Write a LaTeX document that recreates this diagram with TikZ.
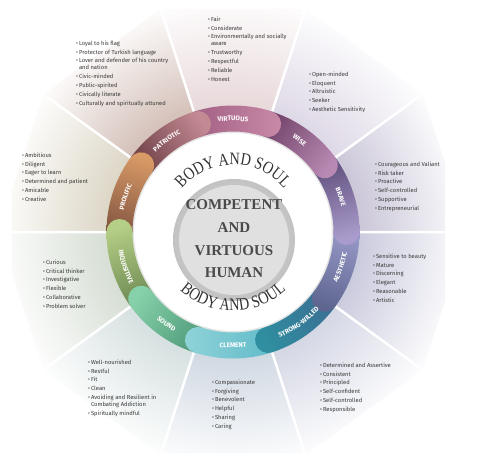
\documentclass[tikz,border=0pt]{standalone}
\usepackage{fontspec}
\usepackage{tikz}
\usetikzlibrary{decorations.text,positioning}
\newfontfamily\listfamily{Fira Sans}
\newfontfamily\pillfamily{Fira Sans}
\newfontfamily\soulfamily[FakeStretch=0.82]{Liberation Serif}
\newfontfamily\corefamily{Liberation Serif}
\newcommand{\listfont}{\listfamily\fontsize{5.8}{8.8}\selectfont}
\newcommand{\pillfont}{\pillfamily\bfseries\fontsize{6.6}{7}\selectfont}
\newcommand{\soulfont}{\soulfamily\fontsize{17.5}{18}\selectfont}
\newcommand{\trait}{\textbullet\,}
% one pill of the ring, from angle #1 clockwise to angle #2
\newcommand{\pillpath}[2]{(#1:100.5) arc[start angle=#1, end angle=#2, radius=100.5]
	arc[start angle=#2+180, end angle=#2+360, radius=13]
	arc[start angle=#2, end angle=#1, radius=126.5]
	arc[start angle=#1, end angle=#1+180, radius=13] -- cycle}
% pills: ccw end / cw end
\definecolor{virtA}{HTML}{9E5C80}\definecolor{virtB}{HTML}{C98AA8}
\definecolor{wiseA}{HTML}{6E3F66}\definecolor{wiseB}{HTML}{B88AB3}
\definecolor{braveA}{HTML}{5B4A78}\definecolor{braveB}{HTML}{A99BCB}
\definecolor{aestA}{HTML}{9C9CCB}\definecolor{aestB}{HTML}{5E6690}
\definecolor{strongA}{HTML}{3B6E93}\definecolor{strongB}{HTML}{2F8EA0}
\definecolor{clemA}{HTML}{5DB8C8}\definecolor{clemB}{HTML}{8FD3D8}
\definecolor{soundA}{HTML}{4E9A78}\definecolor{soundB}{HTML}{86D1AA}
\definecolor{inqA}{HTML}{6A8550}\definecolor{inqB}{HTML}{B5CF86}
\definecolor{prolA}{HTML}{7E5240}\definecolor{prolB}{HTML}{D89A66}
\definecolor{patA}{HTML}{6A3D42}\definecolor{patB}{HTML}{C48A94}
% backdrop
\definecolor{virtbg}{RGB}{207,174,178}
\definecolor{wisebg}{RGB}{186,174,203}
\definecolor{bravebg}{RGB}{145,136,174}
\definecolor{aestbg}{RGB}{145,145,186}
\definecolor{strongbg}{RGB}{165,170,199}
\definecolor{clembg}{RGB}{157,174,195}
\definecolor{soundbg}{RGB}{170,190,190}
\definecolor{inqbg}{RGB}{170,186,165}
\definecolor{prolbg}{RGB}{182,170,136}
\definecolor{patbg}{RGB}{165,124,107}
\definecolor{listgray}{HTML}{3A3A3A}
\definecolor{coregray}{HTML}{4A4A4A}
\tikzset{%
sectorbg/.style={path picture={\shade[inner color=#1, outer color=white] (0pt,0pt) circle (240pt);}},
divider/.style={draw=white, line width=2.5pt},
pillfill/.style n args={3}{path picture={\shade[bottom color=#1, top color=#2, shading angle=#3]
	(path picture bounding box.south west) rectangle (path picture bounding box.north east);}},
pillword/.style={decorate, decoration={text along path, text align=center, text color=white, text={|\pillfont|#1}}},
soulword/.style={decorate, decoration={text along path, text align=center, text color=black!80, text={|\soulfont|BODY AND SOUL}}},
traitlist/.style={anchor=north west, inner sep=0pt, align=left, font=\listfont, text=listgray},
core/.style={align=center, inner sep=0pt, text=coregray, font=\corefamily\bfseries\fontsize{15}{22.7}\selectfont}
}

\begin{document}
\begin{tikzpicture}[x=1pt, y=1pt]
	\useasboundingbox (-233,-227) rectangle (247,232);
	% backdrop wedges
	\begin{scope}
		\clip (-221,-220) rectangle (212,225);
		\path[sectorbg=virtbg] (0,0) -- (72:234.5) -- (108:234.5) -- cycle;
		\path[sectorbg=wisebg] (0,0) -- (36:234.5) -- (72:234.5) -- cycle;
		\path[sectorbg=bravebg] (0,0) -- (0:234.5) -- (36:234.5) -- cycle;
		\path[sectorbg=aestbg] (0,0) -- (-36:234.5) -- (0:234.5) -- cycle;
		\path[sectorbg=strongbg] (0,0) -- (-72:234.5) -- (-36:234.5) -- cycle;
		\path[sectorbg=clembg] (0,0) -- (-108:234.5) -- (-72:234.5) -- cycle;
		\path[sectorbg=soundbg] (0,0) -- (-144:234.5) -- (-108:234.5) -- cycle;
		\path[sectorbg=inqbg] (0,0) -- (180:234.5) -- (216:234.5) -- cycle;
		\path[sectorbg=prolbg] (0,0) -- (144:234.5) -- (180:234.5) -- cycle;
		\path[sectorbg=patbg] (0,0) -- (108:234.5) -- (144:234.5) -- cycle;
		\draw[divider] (0:120) -- (0:250) (36:120) -- (36:250) (72:120) -- (72:250)
			(108:120) -- (108:250) (144:120) -- (144:250) (180:120) -- (180:250)
			(216:120) -- (216:250) (252:120) -- (252:250) (288:120) -- (288:250)
			(324:120) -- (324:250);
	\end{scope}
	% wheel
	\fill[white] (0,0) circle (101);
	\draw[gray!20, line width=2pt] (0,0) circle (100);
	\path[pillfill={virtA}{virtB}{-90}] \pillpath{108}{72};
	\path[pillfill={patA}{patB}{-54}] \pillpath{144}{108};
	\path[pillfill={prolA}{prolB}{-18}] \pillpath{180}{144};
	\path[pillfill={inqA}{inqB}{-342}] \pillpath{216}{180};
	\path[pillfill={soundA}{soundB}{-306}] \pillpath{252}{216};
	\path[pillfill={clemA}{clemB}{-270}] \pillpath{288}{252};
	\path[pillfill={strongA}{strongB}{-234}] \pillpath{324}{288};
	\path[pillfill={aestA}{aestB}{-198}] \pillpath{360}{324};
	\path[pillfill={braveA}{braveB}{-162}] \pillpath{36}{0};
	\path[pillfill={wiseA}{wiseB}{-126}] \pillpath{72}{36};
	\begin{scope}
		\clip (0,0) -- (80:140) -- (55:140) -- cycle;
		\path[pillfill={virtA}{virtB}{-90}] \pillpath{108}{72};
	\end{scope}
	% ring words
	\path[pillword=VIRTUOUS] (108:111.2) arc[start angle=108, end angle=72, radius=111.2];
	\path[pillword=WISE] (72:111.2) arc[start angle=72, end angle=36, radius=111.2];
	\path[pillword=BRAVE] (36:111.2) arc[start angle=36, end angle=0, radius=111.2];
	\path[pillword=AESTHETIC] (-36:115.8) arc[start angle=-36, end angle=0, radius=115.8];
	\path[pillword=STRONG-WILLED] (-72:115.8) arc[start angle=-72, end angle=-36, radius=115.8];
	\path[pillword=CLEMENT] (-108:115.8) arc[start angle=-108, end angle=-72, radius=115.8];
	\path[pillword=SOUND] (-144:115.8) arc[start angle=-144, end angle=-108, radius=115.8];
	\path[pillword=INQUISITIVE] (-180:115.8) arc[start angle=-180, end angle=-144, radius=115.8];
	\path[pillword=PROLIFIC] (180:111.2) arc[start angle=180, end angle=144, radius=111.2];
	\path[pillword=PATRIOTIC] (144:111.2) arc[start angle=144, end angle=108, radius=111.2];
	% centre
	\shade[inner color=gray!22, outer color=gray!48] (1,-8) circle (61);
	\fill[gray!24] (1,-8) circle (55);
	\path[soulword] (150:67.2) arc[start angle=150, end angle=30, radius=67.2];
	\path[soulword] (-150:78.8) arc[start angle=-150, end angle=-30, radius=78.8];
	\node[core] (core) at (1,-7) {COMPETENT\\AND\\VIRTUOUS\\HUMAN};
	% trait lists
	\node[traitlist] (patlist) at (-157,191.5) {\trait Loyal to his flag\\ \trait Protector of Turkish language\\ \trait Lover and defender of his country\\[-1.8pt] \hphantom{\trait}and nation\\ \trait Civic-minded\\ \trait Public-spirited\\ \trait Civically literate\\ \trait Culturally and spiritually attuned};
	\node[traitlist] (virtlist) at (-25,215.5) {\trait Fair\\ \trait Considerate\\ \trait Environmentally and socially\\[-1.8pt] \hphantom{\trait}aware\\ \trait Trustworthy\\ \trait Respectful\\ \trait Reliable\\ \trait Honest};
	\node[traitlist] (wiselist) at (76,160.5) {\trait Open-minded\\ \trait Eloquent\\ \trait Altruistic\\ \trait Seeker\\ \trait Aesthetic Sensitivity};
	\node[traitlist] (bravelist) at (142,70.5) {\trait Courageous and Valiant\\ \trait Risk taker\\ \trait Proactive\\ \trait Self-controlled\\ \trait Supportive\\ \trait Entrepreneurial};
	\node[traitlist] (aestlist) at (140,-21.5) {\trait Sensitive to beauty\\ \trait Mature\\ \trait Discerning\\ \trait Elegant\\ \trait Reasonable\\ \trait Artistic};
	\node[traitlist] (stronglist) at (87,-130.5) {\trait Determined and Assertive\\ \trait Consistent\\ \trait Principled\\ \trait Self-confident\\ \trait Self-controlled\\ \trait Responsible};
	\node[traitlist] (clemlist) at (-21,-147.5) {\trait Compassionate\\ \trait Forgiving\\ \trait Benevolent\\ \trait Helpful\\ \trait Sharing\\ \trait Caring};
	\node[traitlist] (soundlist) at (-145,-127.5) {\trait Well-nourished\\ \trait Restful\\ \trait Fit\\ \trait Clean\\ \trait Avoiding and Resilient in\\[-1.8pt] \hphantom{\trait}Combating Addiction\\ \trait Spiritually mindful};
	\node[traitlist] (prollist) at (-211,79.5) {\trait Ambitious\\ \trait Diligent\\ \trait Eager to learn\\ \trait Determined and patient\\ \trait Amicable\\ \trait Creative};
	\node[traitlist] (inqlist) at (-190,-27.5) {\trait Curious\\ \trait Critical thinker\\ \trait Investigative\\ \trait Flexible\\ \trait Collaborative\\ \trait Problem solver};
\end{tikzpicture}
\end{document}
